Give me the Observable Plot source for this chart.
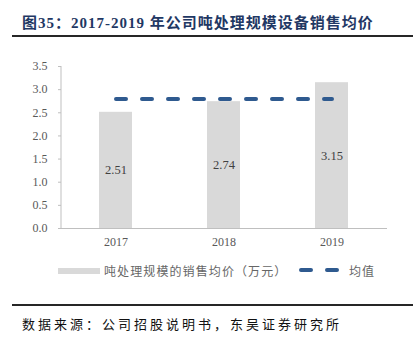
<!DOCTYPE html>
<html>
<head>
<meta charset="utf-8">
<script src="https://cdn.jsdelivr.net/npm/d3@7"></script>
<script src="https://cdn.jsdelivr.net/npm/@observablehq/plot@0.6"></script>
<style>
  html, body { margin: 0; padding: 0; background: #fff; }
  #wrap { position: relative; width: 417px; height: 345px; overflow: hidden; }
  .title { position: absolute; left: 22px; top: 11px; font-family: "Liberation Serif", "Noto Sans CJK SC", serif; font-weight: bold; font-size: 15px; color: #1f3864; white-space: nowrap; letter-spacing: 1px; }
  .title .cjk { font-family: "Noto Sans CJK SC", sans-serif; }
  .rule { position: absolute; left: 12px; width: 401px; height: 2px; background: #262626; }
  .source { position: absolute; left: 22px; top: 314px; font-family: "Noto Sans CJK SC", sans-serif; font-size: 13px; letter-spacing: 3px; color: #111; white-space: nowrap; }
  #chart { position: absolute; left: 0; top: 0; }
  .leg { position: absolute; font-family: "Noto Sans CJK SC", sans-serif; font-size: 12px; color: #666; white-space: nowrap; letter-spacing: 1.1px; }
  .sw { position: absolute; }
</style>
</head>
<body>
<div id="wrap">
  <div class="title"><span class="cjk">图</span>35<span class="cjk">：</span>2017-2019 <span class="cjk">年公司吨处理规模设备销售均价</span></div>
  <div class="rule" style="top:35px"></div>
  <div id="chart"></div>
  <div class="sw" style="left:58px; top:268px; width:42px; height:6px; background:#d9d9d9"></div>
  <div class="leg" style="left:104px; top:262px">吨处理规模的销售均价（万元）</div>
  <svg class="sw" style="left:296px; top:265px" width="52" height="10"><line x1="5" y1="5" x2="46" y2="5" stroke="#2f5a8f" stroke-width="4" stroke-linecap="round" stroke-dasharray="10,16"></line></svg>
  <div class="leg" style="left:349px; top:262px; letter-spacing:1px">均值</div>
  <div class="rule" style="top:304px"></div>
  <div class="source">数据来源：公司招股说明书，东吴证券研究所</div>
</div>
<script>
const years = ["2017", "2018", "2019"];
const prices = [2.51, 2.74, 3.15];
const meanValues = [2.8, 2.8, 2.8];
const yTicks = [0, 0.5, 1.0, 1.5, 2.0, 2.5, 3.0, 3.5];

const data = years.map((y, i) => ({ year: y, price: prices[i], mean: meanValues[i] }));

const chart = Plot.plot({
  width: 417,
  height: 250,
  marginTop: 66,
  marginBottom: 22,
  marginLeft: 61,
  marginRight: 30,
  style: { fontFamily: "Liberation Serif, serif", fontSize: "12px", color: "#595959", background: "transparent", overflow: "visible" },
  x: { domain: years, paddingInner: 0.69, paddingOuter: 0.345, label: null, tickSize: 0, tickPadding: 9 },
  y: { domain: [0, 3.5], ticks: yTicks, tickFormat: d3.format(".1f"), label: null, tickSize: 3, tickPadding: 11 },
  marks: [
    Plot.barY(data, { x: "year", y: "price", fill: "#d9d9d9" }),
    Plot.ruleY([0], { stroke: "#bfbfbf" }),
    Plot.lineY(data, { x: "year", y: "mean", stroke: "#2f5a8f", strokeWidth: 4, strokeLinecap: "round", strokeDasharray: "10,16" }),
    Plot.text(data, { x: "year", y: d => d.price / 2, text: d => d.price.toFixed(2), fill: "#404040", fontSize: 12.5 })
  ]
});
chart.querySelectorAll('[aria-label="y-axis tick"]').forEach(g => g.setAttribute("stroke", "#bfbfbf"));
// vertical y-axis line at the left edge of the x range, spanning the y range
const xs = chart.scale("x"), ys = chart.scale("y");
const axisLine = document.createElementNS("http://www.w3.org/2000/svg", "line");
const xLeft = Math.min(...xs.range);
axisLine.setAttribute("x1", xLeft); axisLine.setAttribute("x2", xLeft);
axisLine.setAttribute("y1", ys.range[0]); axisLine.setAttribute("y2", ys.range[1]);
axisLine.setAttribute("stroke", "#bfbfbf");
chart.appendChild(axisLine);
document.getElementById("chart").appendChild(chart);
</script>
</body>
</html>
